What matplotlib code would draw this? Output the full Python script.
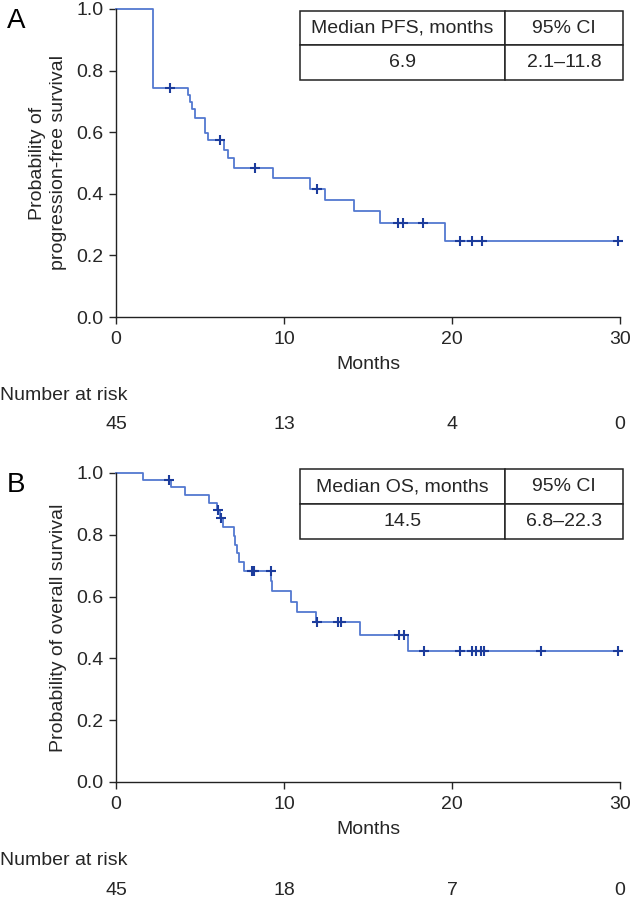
import matplotlib
matplotlib.use("Agg")
import matplotlib.pyplot as plt
import numpy as np

plt.rcParams['font.family'] = ['Liberation Sans', 'DejaVu Sans']

# Panel A: progression-free survival (step times in months and survival after each step)
pfs_times = [2.2, 4.27, 4.40, 4.55, 4.70, 5.3, 5.5, 6.45, 6.65, 7.0, 9.33, 11.55, 12.45, 14.15, 15.7, 19.6]
pfs_surv = [0.742, 0.720, 0.698, 0.676, 0.645, 0.597, 0.575, 0.543, 0.515, 0.483, 0.450, 0.415, 0.380, 0.344, 0.306, 0.247]
pfs_censor = [3.2, 6.2, 8.27, 11.98, 16.8, 17.1, 18.3, 20.5, 21.2, 21.8, 29.9]

# Panel B: overall survival
os_times = [1.63, 3.25, 4.11, 5.56, 6.0, 6.2, 6.35, 7.0, 7.1, 7.2, 7.35, 7.6, 9.21, 9.27, 10.41, 10.8, 11.9, 14.5, 17.4]
os_surv = [0.977, 0.954, 0.929, 0.904, 0.880, 0.853, 0.826, 0.797, 0.768, 0.740, 0.712, 0.684, 0.652, 0.619, 0.584, 0.551, 0.517, 0.476, 0.424]
os_censor = [3.15, 6.1, 6.25, 8.08, 8.21, 9.2, 11.98, 13.23, 13.37, 16.85, 17.15, 18.35, 20.5, 21.2, 21.4, 21.7, 21.9, 25.3, 29.9]

risk_times = [0, 10, 20, 30]
pfs_risk = [45, 13, 4, 0]
os_risk = [45, 18, 7, 0]

pfs_table = [["Median PFS, months", "95% CI"], ["6.9", "2.1\u201311.8"]]
os_table = [["Median OS, months", "95% CI"], ["14.5", "6.8\u201322.3"]]

W, H = 633, 901
line_col = '#5378d0'
mark_col = '#1c3c9c'
txt_col = '#262626'
fs = 14

fig = plt.figure(figsize=(W / 100, H / 100), dpi=100)


def km_panel(bottom_px, height_px, times, surv, censor, risk, table, ylabel, letter, table_top, table_bot):
    left_px, right_px = 116, 620
    ax = fig.add_axes([left_px / W, (H - bottom_px) / H, (right_px - left_px) / W, height_px / H])
    xs = np.r_[0, times, 30]
    ys = np.r_[1.0, surv, surv[-1]]
    ax.step(xs, ys, where='post', color=line_col, lw=1.3, clip_on=False)
    idx = np.searchsorted(times, censor, side='right')
    cy = np.r_[1.0, surv][idx]
    ax.plot(censor, cy, ls='none', marker='+', ms=6.5, mew=1.5, color=mark_col, clip_on=False)

    ax.set_xlim(0, 30)
    ax.set_ylim(0, 1)
    ax.set_xticks([0, 10, 20, 30])
    ax.set_yticks(np.arange(0, 1.01, 0.2))
    ax.yaxis.set_major_formatter(plt.FormatStrFormatter('%.1f'))
    for s in ['top', 'right']:
        ax.spines[s].set_visible(False)
    for s in ['left', 'bottom']:
        ax.spines[s].set_linewidth(1.0)
        ax.spines[s].set_color('#222222')
    ax.tick_params(direction='out', length=5, width=1.0, labelsize=fs, colors=txt_col)
    ax.tick_params(axis='x', pad=5)
    ax.tick_params(axis='y', pad=4)
    ax.set_xlabel("Months", fontsize=fs, color=txt_col, labelpad=6)
    ax.set_ylabel(ylabel, fontsize=fs, color=txt_col, labelpad=7, linespacing=1.25)

    # number at risk
    ax.text(-116 / 504 * 30, -0.255, "Number at risk", fontsize=fs, color=txt_col,
            ha='left', va='center', transform=ax.get_xaxis_transform(), clip_on=False)
    for t, n in zip(risk_times, risk):
        ax.text(t, -0.35, str(n), fontsize=fs, color=txt_col, ha='center', va='center',
                transform=ax.get_xaxis_transform(), clip_on=False)

    # panel letter
    fig.text(7 / W, 1 - (bottom_px - height_px + 12) / H, letter, fontsize=20, color='black',
             ha='left', va='center')

    # median table
    tb = ax.table(cellText=table[1:], colLabels=table[0], cellLoc='center',
                  colWidths=[0.635, 0.365],
                  bbox=[(300 - left_px) / 504, table_bot, (623 - 300) / 504, table_top - table_bot])
    tb.auto_set_font_size(False)
    tb.set_fontsize(fs)
    for cell in tb.get_celld().values():
        cell.set_linewidth(1.1)
        cell.set_edgecolor('#222222')
        cell.get_text().set_color(txt_col)
    return ax


km_panel(317, 308, pfs_times, pfs_surv, pfs_censor, pfs_risk, pfs_table,
         "Probability of\nprogression-free survival", "A", 0.994, 0.769)
km_panel(782, 309, os_times, os_surv, os_censor, os_risk, os_table,
         "Probability of overall survival", "B", 1.013, 0.786)

fig.savefig("out.png", dpi=100, facecolor='white')
